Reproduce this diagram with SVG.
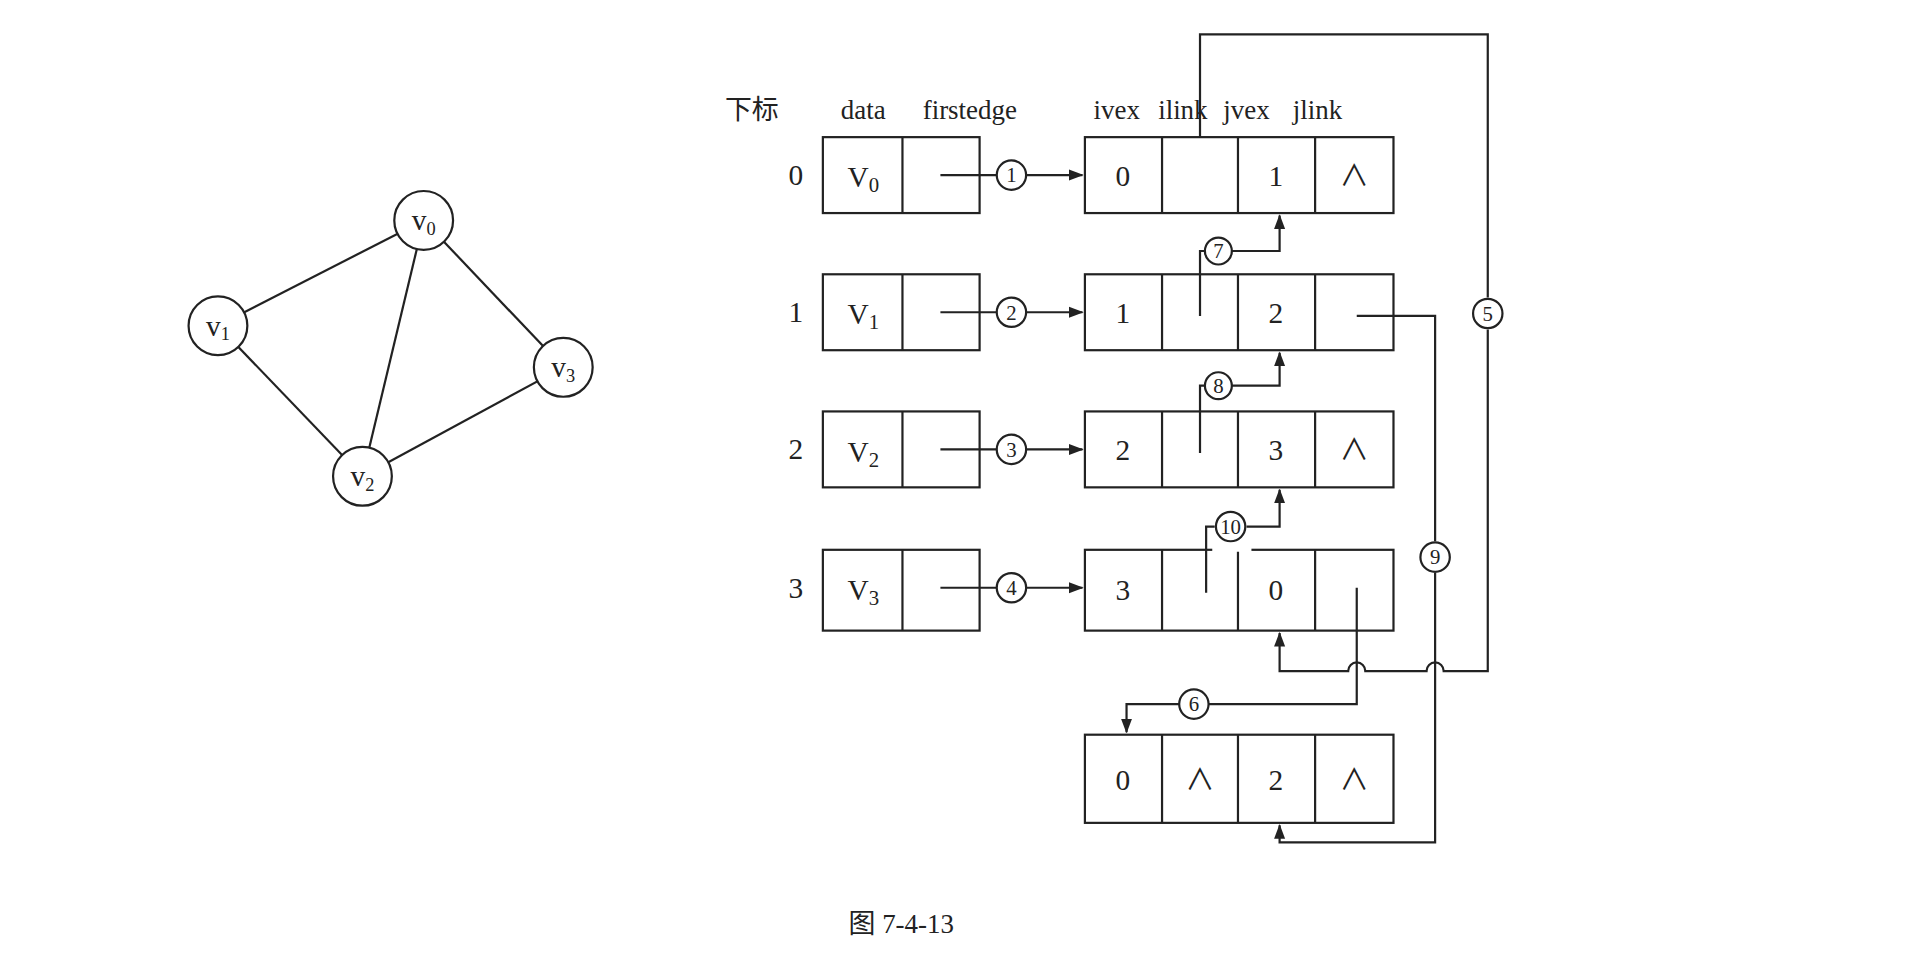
<svg xmlns="http://www.w3.org/2000/svg" width="1920" height="960" viewBox="0 0 1920 960">
<defs>
<marker id="ah" markerWidth="12" markerHeight="12" refX="11" refY="6" orient="auto" markerUnits="userSpaceOnUse"><path d="M0,1.5 L12,6 L0,10.5 Z" fill="#222"/></marker>
<style>
.s{fill:none;stroke:#222;stroke-width:1.8}
.b{fill:#fff;stroke:#222;stroke-width:1.8}
.t{font-family:"Liberation Serif","Noto Sans CJK SC",serif;font-size:24px;fill:#222;text-anchor:middle}
.h{font-family:"Liberation Serif","Noto Sans CJK SC",serif;font-size:22px;fill:#222;text-anchor:middle}
.c{font-family:"Liberation Serif",serif;font-size:17px;fill:#222;text-anchor:middle}
</style>
</defs>
<rect width="1920" height="960" fill="#fff"/>
<g transform="scale(1.2245)">
<g id="graph-edges">
<line class="s" x1="346" y1="180" x2="178" y2="266"/>
<line class="s" x1="346" y1="180" x2="296" y2="389"/>
<line class="s" x1="346" y1="180" x2="460" y2="300"/>
<line class="s" x1="178" y1="266" x2="296" y2="389"/>
<line class="s" x1="296" y1="389" x2="460" y2="300"/>
</g>
<g id="v0"><circle class="b" cx="346" cy="180" r="24"/><text class="t" x="346" y="188">v<tspan font-size="15" dy="4">0</tspan></text></g>
<g id="v1"><circle class="b" cx="178" cy="266" r="24"/><text class="t" x="178" y="274">v<tspan font-size="15" dy="4">1</tspan></text></g>
<g id="v2"><circle class="b" cx="296" cy="389" r="24"/><text class="t" x="296" y="397">v<tspan font-size="15" dy="4">2</tspan></text></g>
<g id="v3"><circle class="b" cx="460" cy="300" r="24"/><text class="t" x="460" y="308">v<tspan font-size="15" dy="4">3</tspan></text></g>

<g id="headers">
<text class="h" x="614" y="97">下标</text>
<text class="h" x="705" y="97">data</text>
<text class="h" x="792" y="97">firstedge</text>
<text class="h" x="912" y="97">ivex</text>
<text class="h" x="966" y="97">ilink</text>
<text class="h" x="1018" y="97">jvex</text>
<text class="h" x="1076" y="97">jlink</text>
</g>

<g id="vertex0"><text class="t" x="650" y="151">0</text><rect class="b" x="672" y="112" width="128" height="62"/><line class="s" x1="737" y1="112" x2="737" y2="174"/><text class="t" x="705" y="153" font-size="28">V<tspan font-size="17" dy="4">0</tspan></text></g>
<g id="vertex1"><text class="t" x="650" y="263">1</text><rect class="b" x="672" y="224" width="128" height="62"/><line class="s" x1="737" y1="224" x2="737" y2="286"/><text class="t" x="705" y="265" font-size="28">V<tspan font-size="17" dy="4">1</tspan></text></g>
<g id="vertex2"><text class="t" x="650" y="375">2</text><rect class="b" x="672" y="336" width="128" height="62"/><line class="s" x1="737" y1="336" x2="737" y2="398"/><text class="t" x="705" y="377" font-size="28">V<tspan font-size="17" dy="4">2</tspan></text></g>
<g id="vertex3"><text class="t" x="650" y="488">3</text><rect class="b" x="672" y="449" width="128" height="66"/><line class="s" x1="737" y1="449" x2="737" y2="515"/><text class="t" x="705" y="490" font-size="28">V<tspan font-size="17" dy="4">3</tspan></text></g>

<g id="edge0"><rect class="b" x="886" y="112" width="252" height="62"/><path class="s" d="M949,112V174M1011,112V174M1074,112V174"/><text class="t" x="917" y="152">0</text><text class="t" x="1042" y="152">1</text><text class="t" x="1106" y="152">∧</text></g>
<g id="edge1"><rect class="b" x="886" y="224" width="252" height="62"/><path class="s" d="M949,224V286M1011,224V286M1074,224V286"/><text class="t" x="917" y="264">1</text><text class="t" x="1042" y="264">2</text></g>
<g id="edge2"><rect class="b" x="886" y="336" width="252" height="62"/><path class="s" d="M949,336V398M1011,336V398M1074,336V398"/><text class="t" x="917" y="376">2</text><text class="t" x="1042" y="376">3</text><text class="t" x="1106" y="376">∧</text></g>
<g id="edge3"><rect class="b" x="886" y="449" width="252" height="66"/><path class="s" d="M949,449V515M1011,449V515M1074,449V515"/><line x1="990" y1="449" x2="1022" y2="449" stroke="#fff" stroke-width="3"/><text class="t" x="917" y="490">3</text><text class="t" x="1042" y="490">0</text></g>
<g id="edge4"><rect class="b" x="886" y="600" width="252" height="72"/><path class="s" d="M949,600V672M1011,600V672M1074,600V672"/><text class="t" x="917" y="645">0</text><text class="t" x="980" y="645">∧</text><text class="t" x="1042" y="645">2</text><text class="t" x="1106" y="645">∧</text></g>

<g id="connectors">
<path class="s" d="M768,143 H814 M838,143 H884" marker-end="url(#ah)"/>
<path class="s" d="M768,255 H814 M838,255 H884" marker-end="url(#ah)"/>
<path class="s" d="M768,367 H814 M838,367 H884" marker-end="url(#ah)"/>
<path class="s" d="M768,480 H814 M838,480 H884" marker-end="url(#ah)"/>
<path class="s" d="M980,258 V205 H984 M1006,205 H1045 V176" marker-end="url(#ah)"/>
<path class="s" d="M980,370 V315 H984 M1006,315 H1045 V288" marker-end="url(#ah)"/>
<path class="s" d="M985,484 V430 H992 M1018,430 H1045 V400" marker-end="url(#ah)"/>
<path class="s" d="M980,112 V28 H1215 V243 M1215,269 V548 H1179 A7,7 0 0 0 1165,548 H1115 A7,7 0 0 0 1101,548 H1045 V517" marker-end="url(#ah)"/>
<path class="s" d="M1108,258 H1172 V442 M1172,468 V688 H1045 V674" marker-end="url(#ah)"/>
<path class="s" d="M1108,480 V575 H987 M963,575 H920 V598" marker-end="url(#ah)"/>
<g>
<circle class="b" cx="826" cy="143" r="12"/><text class="c" x="826" y="149">1</text>
<circle class="b" cx="826" cy="255" r="12"/><text class="c" x="826" y="261">2</text>
<circle class="b" cx="826" cy="367" r="12"/><text class="c" x="826" y="373">3</text>
<circle class="b" cx="826" cy="480" r="12"/><text class="c" x="826" y="486">4</text>
<circle class="b" cx="1215" cy="256" r="12"/><text class="c" x="1215" y="262">5</text>
<circle class="b" cx="975" cy="575" r="12"/><text class="c" x="975" y="581">6</text>
<circle class="b" cx="995" cy="205" r="11"/><text class="c" x="995" y="211">7</text>
<circle class="b" cx="995" cy="315" r="11"/><text class="c" x="995" y="321">8</text>
<circle class="b" cx="1172" cy="455" r="12"/><text class="c" x="1172" y="461">9</text>
<circle class="b" cx="1005" cy="430" r="12"/><text class="c" x="1005" y="436" font-size="14">10</text>
</g>
</g>
<text class="h" x="736" y="762">图 7-4-13</text>
</g>
</svg>
